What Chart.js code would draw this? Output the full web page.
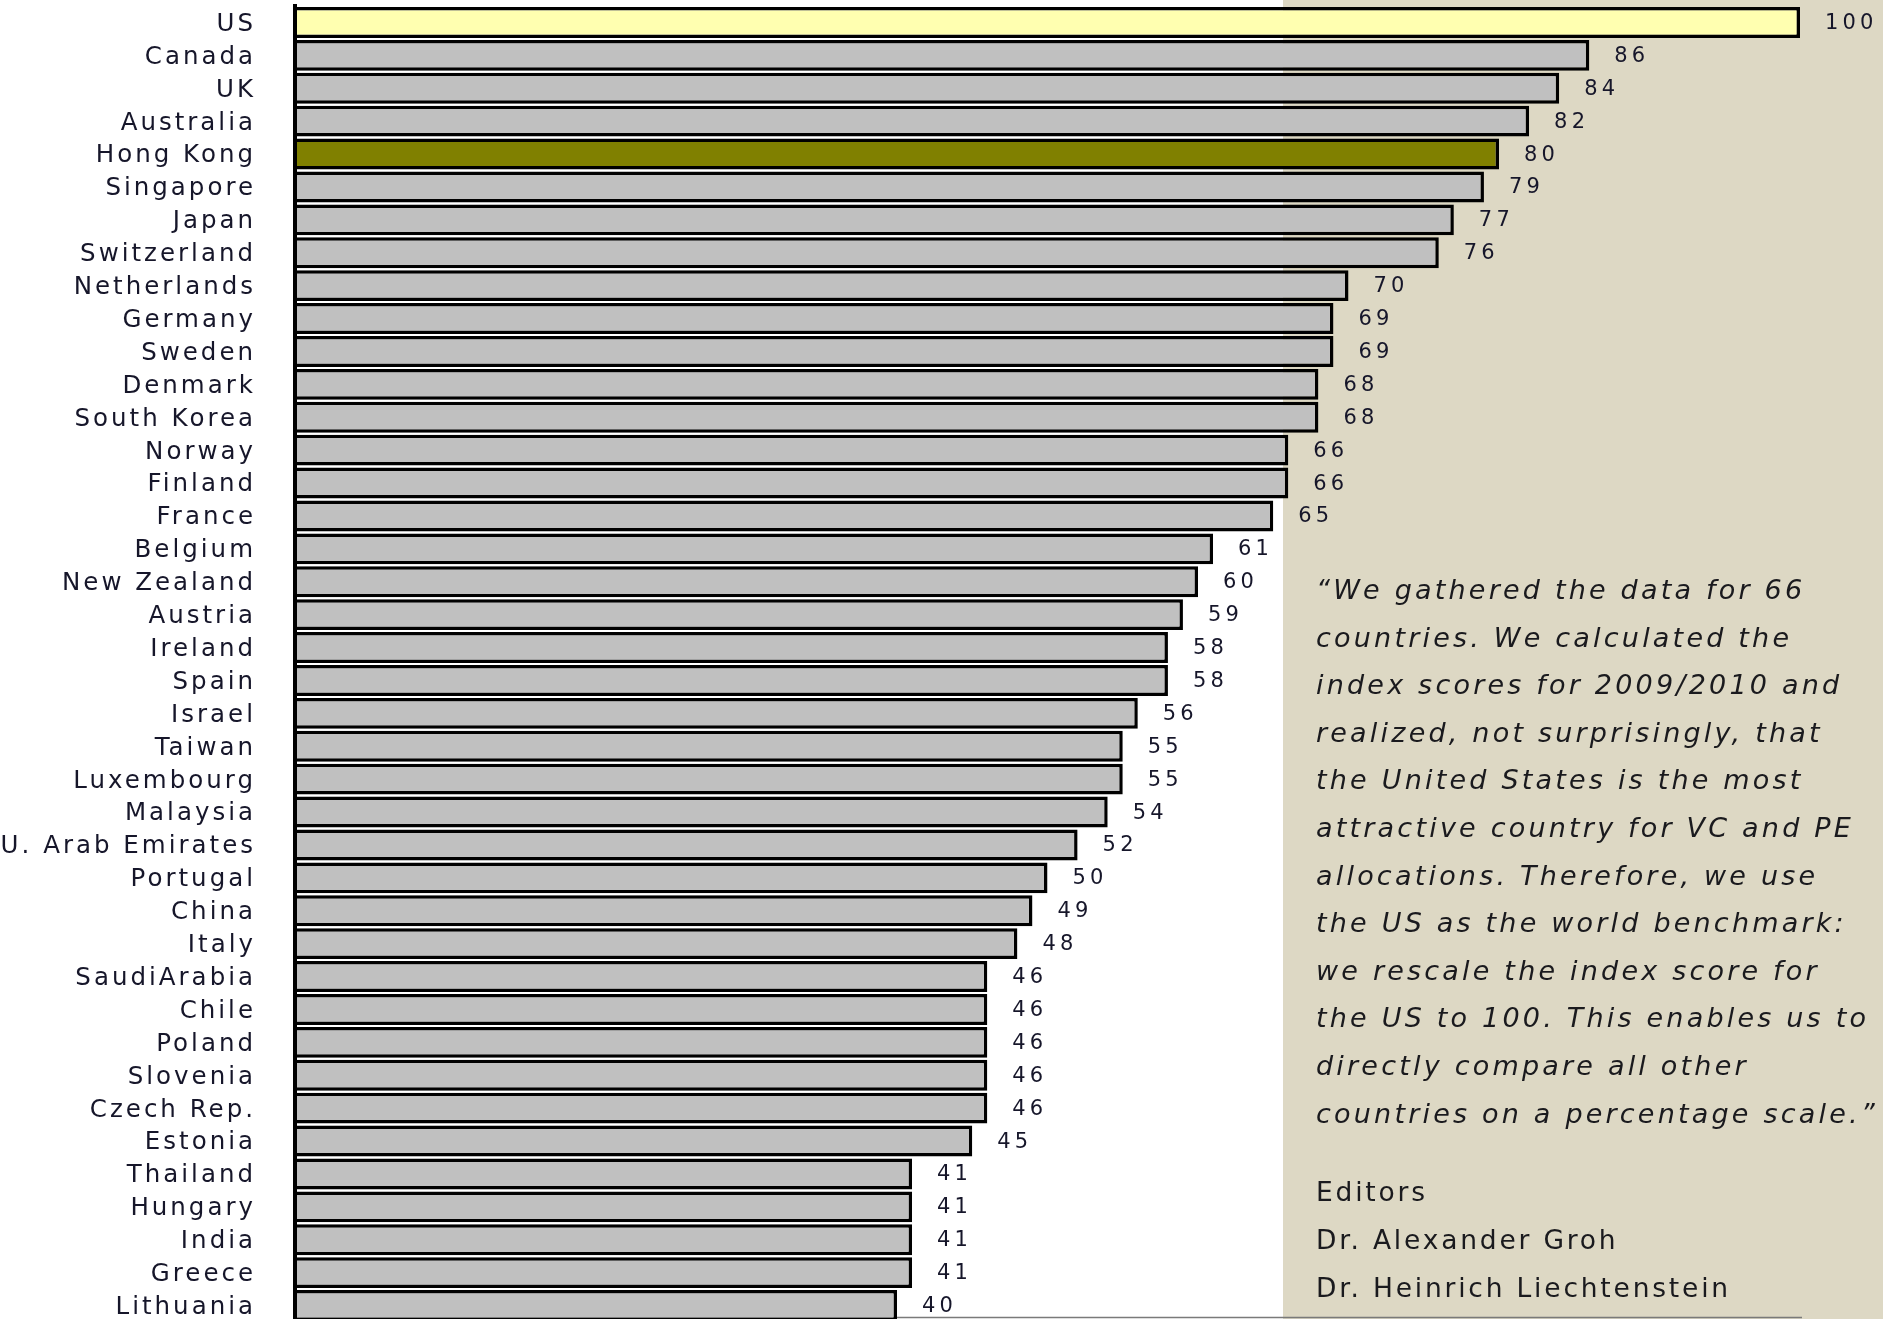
<!DOCTYPE html>
<html>
<head>
<meta charset="utf-8">
<title>Country attractiveness index, US = 100</title>
<script src="https://cdn.jsdelivr.net/npm/chart.js@4/dist/chart.umd.min.js"></script>
<style>
  html, body { margin: 0; padding: 0; background: #ffffff; overflow: hidden; }
  #wrap { position: relative; width: 1883px; height: 1319px; overflow: hidden; }
  #panel { position: absolute; left: 1283px; top: 0; width: 600px; height: 1319px; background: #DDD8C4; z-index: 0; }
  #chart { position: absolute; left: 0; top: 0; z-index: 1; }
  .note { position: absolute; left: 1316px; z-index: 2; font-family: "DejaVu Sans", sans-serif; color: #1a1a1e; white-space: nowrap; }
  #quote { top: 566px; font-size: 27px; font-style: italic; letter-spacing: 3.2px; line-height: 47.6px; }
  #editors { top: 1168px; font-size: 26.5px; letter-spacing: 2.8px; line-height: 48px; }
</style>
</head>
<body>
<div id="wrap">
  <div id="panel"></div>
  <canvas id="chart" width="1883" height="1322"></canvas>
  <div id="quote" class="note">“We gathered the data for 66<br>countries. We calculated the<br>index scores for 2009/2010 and<br>realized, not surprisingly, that<br>the United States is the most<br>attractive country for VC and PE<br>allocations. Therefore, we use<br>the US as the world benchmark:<br>we rescale the index score for<br>the US to 100. This enables us to<br>directly compare all other<br>countries on a percentage scale.”</div>
  <div id="editors" class="note">Editors<br>Dr. Alexander Groh<br>Dr. Heinrich Liechtenstein</div>
</div>
<script>
// Index scores, rescaled so that the US equals 100
const countries = [
  "US", "Canada", "UK", "Australia", "Hong Kong", "Singapore", "Japan", "Switzerland",
  "Netherlands", "Germany", "Sweden", "Denmark", "South Korea", "Norway", "Finland", "France",
  "Belgium", "New Zealand", "Austria", "Ireland", "Spain", "Israel", "Taiwan", "Luxembourg",
  "Malaysia", "U. Arab Emirates", "Portugal", "China", "Italy", "SaudiArabia", "Chile", "Poland",
  "Slovenia", "Czech Rep.", "Estonia", "Thailand", "Hungary", "India", "Greece", "Lithuania"
];
const scores = [
  100, 86, 84, 82, 80, 79, 77, 76,
  70, 69, 69, 68, 68, 66, 66, 65,
  61, 60, 59, 58, 58, 56, 55, 55,
  54, 52, 50, 49, 48, 46, 46, 46,
  46, 46, 45, 41, 41, 41, 41, 40
];
const benchmark = "US";
const featured = "Hong Kong";

const FONT = "DejaVu Sans";

function barFill(ctx) {
  const name = countries[ctx.dataIndex];
  if (name === benchmark) return "#FFFFB0";
  if (name === featured) return "#808000";
  return "#C0C0C0";
}

// Wide tracking for the category labels
const tracking = {
  id: "tracking",
  beforeDraw(chart) { chart.ctx.letterSpacing = "3px"; },
  afterDraw(chart) { chart.ctx.letterSpacing = "0px"; }
};

// Thin baseline under the bars, spanning the value axis
const baseline = {
  id: "baseline",
  beforeDatasetsDraw(chart) {
    const { ctx, scales } = chart;
    ctx.save();
    ctx.strokeStyle = "#7a7a7a";
    ctx.lineWidth = 1.5;
    ctx.beginPath();
    ctx.moveTo(scales.x.getPixelForValue(0), 1317.5);
    ctx.lineTo(scales.x.getPixelForValue(100) + 2, 1317.5);
    ctx.stroke();
    ctx.restore();
  }
};

// Score printed to the right of each bar
const valueLabels = {
  id: "valueLabels",
  afterDatasetsDraw(chart) {
    const { ctx } = chart;
    const meta = chart.getDatasetMeta(0);
    ctx.save();
    ctx.letterSpacing = "4.2px";
    ctx.font = "21px '" + FONT + "'";
    ctx.fillStyle = "#16162a";
    ctx.textAlign = "left";
    ctx.textBaseline = "middle";
    meta.data.forEach((bar, i) => {
      ctx.fillText(String(scores[i]), bar.x + 25, bar.y + 1);
    });
    ctx.restore();
  }
};

new Chart(document.getElementById("chart"), {
  type: "bar",
  data: {
    labels: countries,
    datasets: [{
      data: scores,
      backgroundColor: barFill,
      borderColor: "#000000",
      borderWidth: 3.5,
      borderSkipped: "start",
      barPercentage: 0.94,
      categoryPercentage: 1.0
    }]
  },
  plugins: [tracking, baseline, valueLabels],
  options: {
    indexAxis: "y",
    responsive: false,
    maintainAspectRatio: false,
    animation: false,
    devicePixelRatio: 1,
    layout: { padding: { top: 6, right: 83, bottom: 0, left: 0 } },
    plugins: { legend: { display: false }, tooltip: { enabled: false } },
    scales: {
      x: {
        display: false,
        min: 0,
        max: 100
      },
      y: {
        afterFit(scale) {
          scale.width = 295;
          scale.paddingTop = 0;
          scale.paddingBottom = 0;
        },
        grid: { display: false, drawTicks: false },
        border: { display: true, color: "#000000", width: 4, z: 1 },
        ticks: {
          padding: 39,
          labelOffset: 2,
          color: "#16162a",
          font: { family: FONT, size: 24.5 }
        }
      }
    }
  }
});
</script>
</body>
</html>
